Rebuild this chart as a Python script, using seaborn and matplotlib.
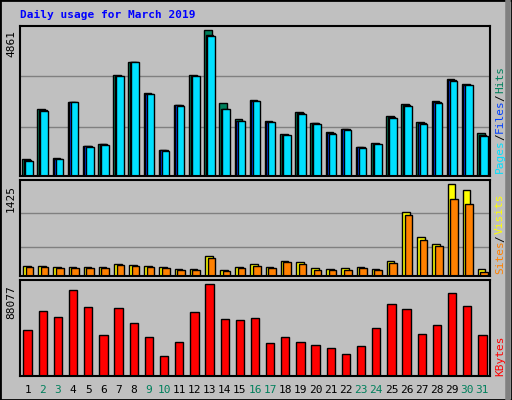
import numpy as np
import pandas as pd
import matplotlib
matplotlib.use("Agg")
import matplotlib.pyplot as plt
import seaborn as sns

days = list(range(1, 32))
hits = [566,2230,600,2464,1000,1066,3363,3796,2764,866,2364,3363,4861,2431,1898,2531,1831,1398,2131,1765,1465,1565,966,1099,1998,2398,1798,2497,3230,3063,1432]
files = [540,2200,580,2464,985,1050,3340,3796,2745,850,2350,3345,4700,2240,1840,2510,1810,1380,2100,1750,1430,1550,950,1080,1960,2360,1760,2460,3200,3045,1380]
pages = [500,2165,566,2464,966,1033,3330,3796,2730,833,2331,3330,4662,2231,1831,2497,1798,1365,2064,1731,1398,1531,933,1066,1931,2331,1731,2431,3163,3030,1332]
sites = [155,155,140,140,140,140,186,170,155,140,108,108,310,93,140,186,140,233,217,124,108,124,140,108,233,992,605,496,1425,1333,108]
visits = [140,140,124,124,124,124,170,155,140,124,93,93,279,78,124,155,124,217,186,93,93,93,124,93,202,946,558,465,1193,1116,62]
kbytes = [44000,62200,56500,82300,66000,39200,65000,50700,37300,19100,32500,61200,88077,54500,53600,55500,31600,37300,32500,29700,26800,21000,28700,45900,68900,64100,40200,48800,79400,67000,39200]
weekend = [2,3,9,10,16,17,23,24,30,31]

BG = "#c0c0c0"
W, H = 512, 400
fig = plt.figure(figsize=(W/100, H/100), dpi=100, facecolor=BG)
mono = "DejaVu Sans Mono"

def px(x0, y0, x1, y1):
    return [x0/W, 1-y1/H, (x1-x0)/W, (y1-y0)/H]

def bars(ax, vals, off, width, color):
    df = pd.DataFrame({"d": np.array(days) + off, "v": vals})
    sns.barplot(data=df, x="d", y="v", native_scale=True, width=width,
                color=color, edgecolor="black", linewidth=1, saturation=1, ax=ax)

def style(ax, top, grid):
    ax.set_facecolor(BG)
    ax.set_xlim(0.5, 31.5)
    ax.set_ylim(0, top)
    for g in grid:
        ax.axhline(g*top, color="#808080", lw=1, zorder=0)
    ax.set_xticks([]); ax.set_yticks([])
    ax.set_xlabel(""); ax.set_ylabel("")
    for s in ax.spines.values():
        s.set_color("black"); s.set_linewidth(1.5)

ax1 = fig.add_axes(px(20, 26, 490, 176))
bars(ax1, hits, -0.1, 0.5, "#00805c")
bars(ax1, files, 0.0, 0.5, "#0040ff")
bars(ax1, pages, 0.1, 0.5, "#00e0ff")
style(ax1, 4995, [0.327, 0.667])

ax2 = fig.add_axes(px(20, 180, 490, 276))
bars(ax2, sites, -0.05, 0.5, "#ffff00")
bars(ax2, visits, 0.12, 0.5, "#ff8000")
style(ax2, 1490, [0.30, 0.66])

ax3 = fig.add_axes(px(20, 280, 490, 376))
bars(ax3, kbytes, 0.0, 0.55, "#ff0000")
style(ax3, 91500, [])

# y max labels
for y, t in [(30, "4861"), (185, "1425"), (285, "88077")]:
    fig.text(16/W, 1-y/H, t, rotation=90, ha="right", va="top", fontsize=8, family=mono)

# x labels
for d in days:
    fig.text((20 + (d-0.5)*470/31)/W, 1-390/H, str(d), ha="center", va="center",
             fontsize=8, family=mono, color="#00805c" if d in weekend else "black")

fig.text(20/W, 1-15/H, "Daily usage for March 2019", fontsize=8, family=mono,
         weight="bold", color="#0000ff", va="center")

def side(parts, ystart):
    y = ystart
    for t, c in parts:
        fig.text(500/W, 1-y/H, t, rotation=90, ha="center", va="bottom",
                 fontsize=8, family=mono, color=c)
        y -= len(t)*6.3 + 1

side([("Pages", "#00e0ff"), ("/", "black"), ("Files", "#0040ff"), ("/", "black"), ("Hits", "#00805c")], 173)
side([("Sites", "#ff8000"), ("/", "black"), ("Visits", "#ffff00")], 274)
side([("KBytes", "#ff0000")], 376)

fig.add_artist(plt.Rectangle((0, 0), 1, 1, transform=fig.transFigure, fill=False,
                             edgecolor="black", lw=2))
fig.add_artist(plt.Line2D([508/W, 508/W], [0.005, 0.995], transform=fig.transFigure,
                          color="#808080", lw=4))
fig.savefig("out.png", dpi=100, facecolor=BG)
